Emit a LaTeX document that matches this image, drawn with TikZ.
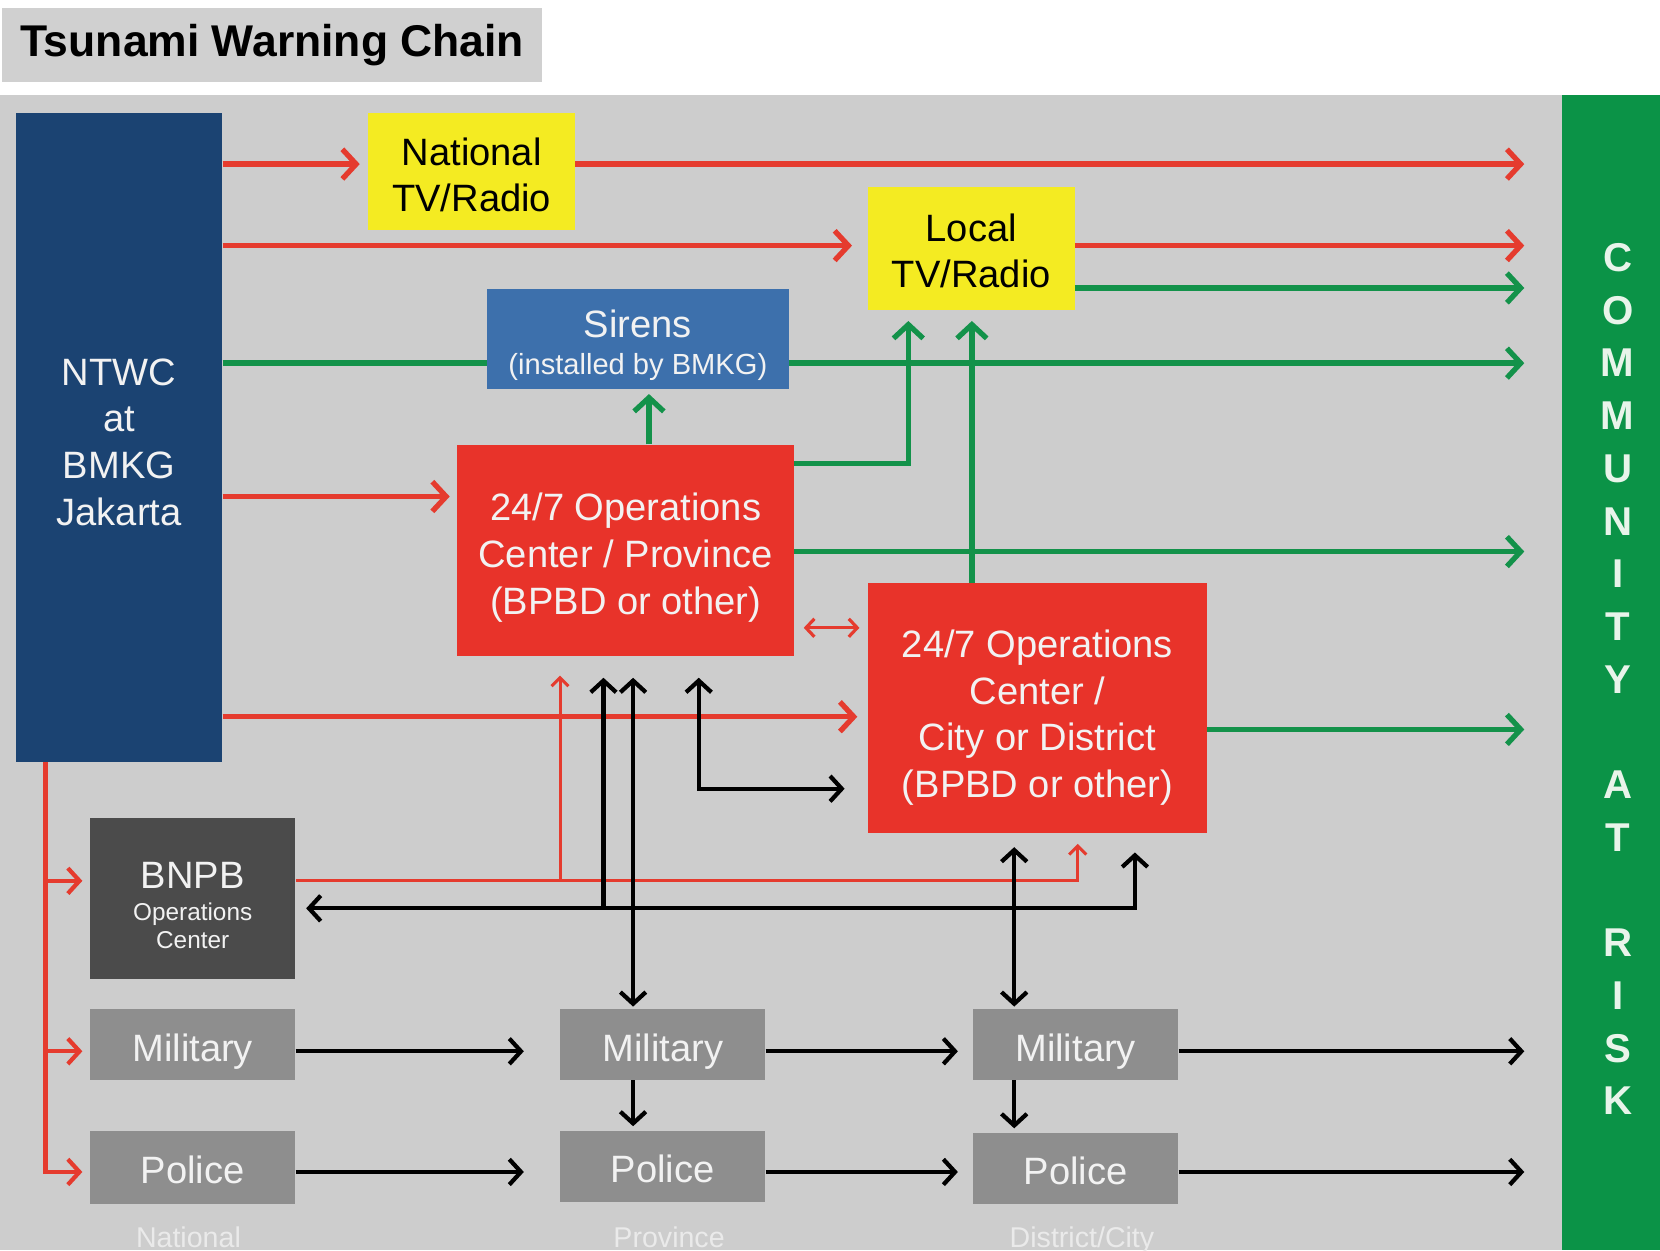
\documentclass[tikz,border=0pt]{standalone}
\usepackage{fontspec}
\setmainfont{Liberation Sans}
\usetikzlibrary{arrows.meta}
\definecolor{panelGray}{HTML}{CDCDCD}
\definecolor{titleGray}{HTML}{D0D0D0}
\definecolor{ntwcBlue}{HTML}{1B4372}
\definecolor{tvYellow}{HTML}{F4EB22}
\definecolor{sirenBlue}{HTML}{3D70AC}
\definecolor{opsRed}{HTML}{E8332A}
\definecolor{arRed}{HTML}{E53B2E}
\definecolor{bnpbGray}{HTML}{4B4B4B}
\definecolor{boxGray}{HTML}{8E8E8E}
\definecolor{bandGreen}{HTML}{0B9347}
\definecolor{arGreen}{HTML}{13924A}
\definecolor{softWhite}{HTML}{F2F2F2}
\definecolor{lblWhite}{HTML}{EAEAEA}
\definecolor{letterWhite}{HTML}{E8F4EA}
\tikzset{
  box/.style={rectangle, inner sep=0pt, align=center, text depth=0pt, font=\fontsize{36}{44}\selectfont},
  bigtip/.style={-{Straight Barb[length=13pt,width=28pt]}},
  redarr/.style={draw=arRed, line width=5pt, bigtip},
  greenarr/.style={draw=arGreen, line width=5pt, bigtip},
  greenline/.style={draw=arGreen, line width=5pt},
  blkarr/.style={draw=black, line width=4pt, -{Straight Barb[length=11pt,width=24pt]}},
  blkboth/.style={draw=black, line width=4pt, {Straight Barb[length=11pt,width=24pt]}-{Straight Barb[length=11pt,width=24pt]}},
  thinred/.style={draw=arRed, line width=2.8pt, -{Straight Barb[length=8pt,width=16pt]}},
  thinredboth/.style={draw=arRed, line width=3pt, {Straight Barb[length=8pt,width=17pt]}-{Straight Barb[length=8pt,width=17pt]}},
  tocomm/.style={shorten >=35pt},
  lvl/.style={text=lblWhite, anchor=base, font=\fontsize{27}{30}\selectfont}
}
\begin{document}
\begin{tikzpicture}[x=1pt,y=-1pt]
\useasboundingbox (0,0) rectangle (1568,1181);
\clip (0,0) rectangle (1568,1181);
\fill[white] (0,0) rectangle (1568,1181);
% panels
\fill[panelGray] (0,90) rectangle (1475,1181);
\node[rectangle, fill=titleGray, minimum width=510pt, minimum height=69pt, inner sep=0pt,
      font=\bfseries\fontsize{42}{48}\selectfont] (title) at (257,42.5) {Tsunami Warning Chain};
\node[rectangle, fill=bandGreen, minimum width=93pt, minimum height=1091pt, inner sep=0pt] (comm) at (1521.5,635.5) {};
\node[align=center, text=letterWhite, inner sep=0pt, font=\bfseries\fontsize{38}{49.8}\selectfont] (commtxt) at (1528,641.5)
  {C\\O\\M\\M\\U\\N\\I\\T\\Y\\\mbox{}\\A\\T\\\mbox{}\\R\\I\\S\\K};

% nodes
\node[box, text height=165pt, fill=ntwcBlue, text=softWhite, minimum width=195pt, minimum height=613pt] (ntwc) at (112.5,413.5) {NTWC\\at\\BMKG\\Jakarta};
\node[box, text height=76pt, fill=tvYellow, text=black, minimum width=195pt, minimum height=110pt] (ntv) at (445.5,162) {National\\TV/Radio};
\node[box, text height=74pt, fill=tvYellow, text=black, minimum width=195pt, minimum height=116pt] (ltv) at (917.5,235) {Local\\TV/Radio};
\node[box, text height=68pt, fill=sirenBlue, text=softWhite, minimum width=285pt, minimum height=94pt,
      font=\fontsize{27.5}{35}\selectfont] (sirens) at (602.5,320)
  {{\fontsize{36}{40}\selectfont Sirens}\\(installed by BMKG)};
\node[box, text height=120pt, fill=opsRed, text=softWhite, minimum width=318pt, minimum height=200pt] (prov) at (591,520)
  {24/7 Operations\\Center / Province\\(BPBD or other)};
\node[box, text height=168pt, fill=opsRed, text=softWhite, minimum width=320pt, minimum height=236pt] (dist) at (980,669)
  {24/7 Operations\\Center /\\City or District\\(BPBD or other)};
\node[box, text height=94pt, fill=bnpbGray, text=softWhite, minimum width=194pt, minimum height=152pt,
      font=\fontsize{23}{27}\selectfont] (bnpb) at (182,849)
  {{\fontsize{36}{40}\selectfont BNPB}\\[3pt]Operations\\Center};
\node[box, text height=33pt, fill=boxGray, text=softWhite, minimum width=194pt, minimum height=67pt] (milN) at (182,986.5) {Military};
\node[box, text height=31pt, fill=boxGray, text=softWhite, minimum width=194pt, minimum height=69pt] (polN) at (182,1102.5) {Police};
\node[box, text height=33pt, fill=boxGray, text=softWhite, minimum width=194pt, minimum height=67pt] (milP) at (626,986.5) {Military};
\node[box, text height=31pt, fill=boxGray, text=softWhite, minimum width=194pt, minimum height=67pt] (polP) at (626,1101.5) {Police};
\node[box, text height=33pt, fill=boxGray, text=softWhite, minimum width=194pt, minimum height=67pt] (milD) at (1016,986.5) {Military};
\node[box, text height=31pt, fill=boxGray, text=softWhite, minimum width=194pt, minimum height=67pt] (polD) at (1016,1103.5) {Police};

\node[lvl] (lblN) at (178,1178) {National};
\node[lvl] (lblP) at (632,1178) {Province};
\node[lvl] (lblD) at (1022,1178) {District/City};

% red arrows from NTWC
\draw[redarr, shorten >=8pt] (ntwc.east |- 0,155) -- (ntv.west |- 0,155);
\draw[redarr, tocomm] (ntv.east |- 0,155) -- (comm.west |- 0,155);
\draw[redarr, shorten >=15pt] (ntwc.east |- 0,232) -- (ltv.west |- 0,232);
\draw[redarr, tocomm] (ltv.east |- 0,232) -- (comm.west |- 0,232);
\draw[redarr, shorten >=7pt] (ntwc.east |- 0,469) -- (prov.west |- 0,469);
\draw[redarr, shorten >=10pt] (ntwc.east |- 0,677) -- (dist.west |- 0,677);
\draw[thinredboth, shorten <=9pt, shorten >=8pt] (prov.east |- 0,593) -- (dist.west |- 0,593);

% red trunk down from NTWC
\coordinate (tB) at (43,832);
\coordinate (tM) at (43,993);
\draw[draw=arRed, line width=4pt, -{Straight Barb[length=11pt,width=24pt]}, shorten >=7pt] (ntwc.south -| tB) |- (polN.west |- 0,1107);
\draw[draw=arRed, line width=4pt, -{Straight Barb[length=11pt,width=24pt]}, shorten >=7pt] (tB) -- (bnpb.west |- tB);
\draw[draw=arRed, line width=4pt, -{Straight Barb[length=11pt,width=24pt]}, shorten >=7pt] (tM) -- (milN.west |- tM);

% thin red from BNPB
\coordinate (rB) at (529,832);
\draw[thinred, shorten >=10pt] (bnpb.east |- rB) -| (dist.south -| 1018,0);
\draw[thinred, shorten >=18pt] (rB) -- (prov.south -| rB);

% green
\draw[greenline] (ntwc.east |- 0,343) -- (sirens.west |- 0,343);
\draw[greenarr, tocomm] (sirens.east |- 0,343) -- (comm.west |- 0,343);
\draw[greenarr, tocomm] (ltv.east |- 0,272) -- (comm.west |- 0,272);
\draw[greenarr, shorten >=5pt] (prov.north -| 613,0) -- (sirens.south -| 613,0);
\draw[greenarr, shorten >=10pt] (prov.east |- 0,438) -| (ltv.south -| 858,0);
\draw[greenarr, shorten >=10pt] (dist.north -| 918,0) -- (ltv.south -| 918,0);
\draw[greenarr, tocomm] (prov.east |- 0,521) -- (comm.west |- 0,521);
\draw[greenarr, tocomm] (dist.east |- 0,689) -- (comm.west |- 0,689);

% black
\coordinate (kB) at (570,858);
\draw[blkboth, shorten <=18pt, shorten >=10pt] (dist.south -| 1072,0) |- (bnpb.east |- kB);
\draw[blkarr, shorten >=20pt] (kB) -- (prov.south -| kB);
\draw[blkboth, shorten <=20pt, shorten >=2pt] (prov.south -| 598,0) -- (milP.north -| 598,0);
\draw[blkboth, shorten <=13pt, shorten >=2pt] (dist.south -| 958,0) -- (milD.north -| 958,0);
\draw[blkboth, shorten <=20pt, shorten >=22pt] (prov.south -| 660,0) |- (dist.west |- 0,745);
\draw[blkarr, shorten >=34pt] (milN.east |- 0,993) -- (milP.west |- 0,993);
\draw[blkarr, shorten >=34pt] (polN.east |- 0,1107) -- (polP.west |- 0,1107);
\draw[blkarr, shorten >=14pt] (milP.east |- 0,993) -- (milD.west |- 0,993);
\draw[blkarr, shorten >=14pt] (polP.east |- 0,1107) -- (polD.west |- 0,1107);
\draw[blkarr, tocomm] (milD.east |- 0,993) -- (comm.west |- 0,993);
\draw[blkarr, tocomm] (polD.east |- 0,1107) -- (comm.west |- 0,1107);
\draw[blkarr, shorten >=4pt] (milP.south -| 598,0) -- (polP.north -| 598,0);
\draw[blkarr, shorten >=4pt] (milD.south -| 958,0) -- (polD.north -| 958,0);
\end{tikzpicture}
\end{document}
